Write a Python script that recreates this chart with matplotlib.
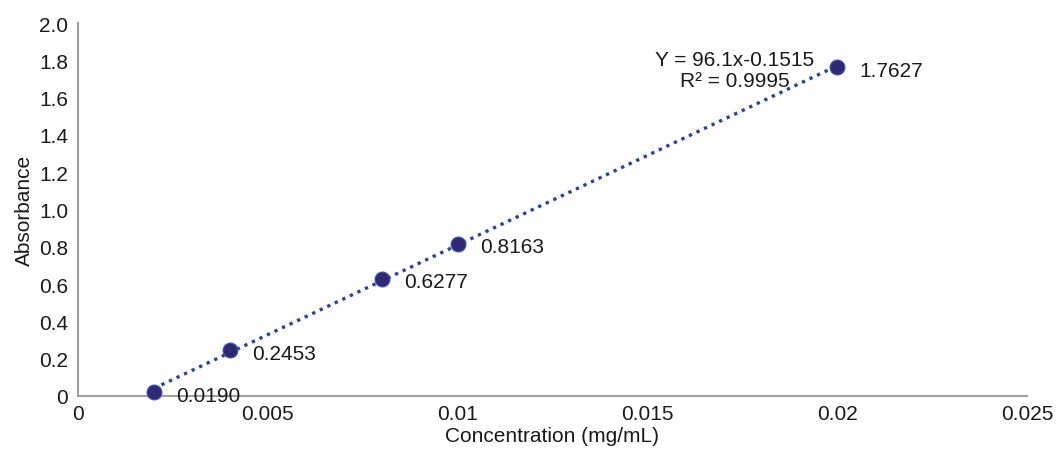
import matplotlib.pyplot as plt
import numpy as np

plt.rcParams['font.family'] = ['Liberation Sans', 'DejaVu Sans']

conc = [0.002, 0.004, 0.008, 0.01, 0.02]
absorb = [0.0190, 0.2453, 0.6277, 0.8163, 1.7627]
point_labels = ['0.0190', '0.2453', '0.6277', '0.8163', '1.7627']
x_ticks = [0, 0.005, 0.01, 0.015, 0.02, 0.025]
x_tick_labels = ['0', '0.005', '0.01', '0.015', '0.02', '0.025']
y_ticks = [0, 0.2, 0.4, 0.6, 0.8, 1.0, 1.2, 1.4, 1.6, 1.8, 2.0]
y_tick_labels = ['0', '0.2', '0.4', '0.6', '0.8', '1.0', '1.2', '1.4', '1.6', '1.8', '2.0']
slope, intercept = 96.1, -0.1515

fs = 15

fig = plt.figure(figsize=(10.57, 4.52), dpi=100)
ax = fig.add_axes([0.0738, 0.1217, 0.8978, 0.8252])

xs = np.array([conc[0], conc[-1]])
ax.plot(xs, slope * xs + intercept, linestyle=(0, (1, 1.5)), color='#2b43a0',
        linewidth=2.4, zorder=2)
ax.scatter(conc, absorb, s=115, color='#2e2875', edgecolor='#3d5bb0',
           linewidth=0.8, zorder=3, clip_on=False)

for x, y, lab in zip(conc, absorb, point_labels):
    ax.annotate(lab, (x, y), xytext=(16, -2), textcoords='offset points',
                ha='left', va='center', fontsize=fs, color='#1a1a1a')

ax.text(0.01729, 1.75, 'Y = 96.1x-0.1515\nR² = 0.9995', ha='center', va='center',
        fontsize=fs, color='#1a1a1a', linespacing=1.15)

ax.set_xlim(0, 0.025)
ax.set_ylim(0, 2.0)
ax.set_xticks(x_ticks)
ax.set_xticklabels(x_tick_labels)
ax.set_yticks(y_ticks)
ax.set_yticklabels(y_tick_labels)
ax.tick_params(length=0, labelsize=fs, colors='#1a1a1a', pad=7)
ax.tick_params(axis='x', pad=6)

for side in ['top', 'right']:
    ax.spines[side].set_visible(False)
for side in ['left', 'bottom']:
    ax.spines[side].set_color('#a0a0a0')
    ax.spines[side].set_linewidth(1.5)

ax.set_xlabel('Concentration (mg/mL)', fontsize=fs, color='#1a1a1a', labelpad=2)
ax.set_ylabel('Absorbance', fontsize=fs, color='#1a1a1a', labelpad=4)

fig.savefig('out.png', dpi=100)
